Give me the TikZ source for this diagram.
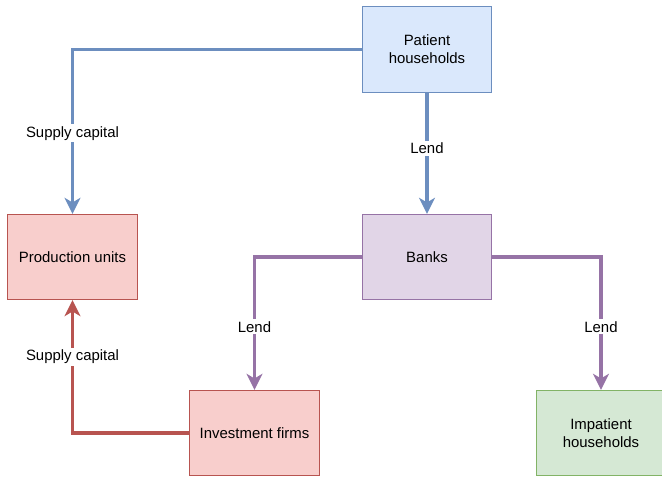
\documentclass[tikz,border=0pt]{standalone}
\usepackage{fontspec}
\setmainfont{Liberation Sans}
\usepackage{xcolor}
\usetikzlibrary{arrows.meta, positioning}

\definecolor{blueline}{HTML}{6C8EBF}
\definecolor{bluefill}{HTML}{DAE8FC}
\definecolor{purpleline}{HTML}{9673A6}
\definecolor{purplefill}{HTML}{E1D5E7}
\definecolor{redline}{HTML}{B85450}
\definecolor{redfill}{HTML}{F8CECC}
\definecolor{greenline}{HTML}{82B366}
\definecolor{greenfill}{HTML}{D5E8D4}

\begin{document}
\begin{tikzpicture}[
        x=0.75pt, y=-0.75pt,
        box/.style={rectangle, line width=0.8pt, minimum width=97pt, minimum height=64pt,
                    text centered, align=center, font=\fontsize{11.2}{13.4}\selectfont, inner sep=0pt},
        householdbox/.style={box, draw=blueline, fill=bluefill},
        bankbox/.style={box, draw=purpleline, fill=purplefill},
        firmbox/.style={box, draw=redline, fill=redfill},
        debtorbox/.style={box, draw=greenline, fill=greenfill},
        arrow/.style={-{Stealth[length=12pt, width=12pt, inset=3.5pt]}, line width=2.8pt},
        flowlabel/.style={fill=white, inner sep=1.5pt, text=black, font=\fontsize{11.2}{13.4}\selectfont}
    ]
        \useasboundingbox (0,0) rectangle (662,476);

        \node[householdbox] (patient) at (427,49.5) {Patient\\households};
        \node[bankbox] (banks) at (427,257) {Banks};
        \node[firmbox] (production) at (72.5,257) {Production units};
        \node[firmbox] (investment) at (254.5,433) {Investment firms};
        \node[debtorbox] (impatient) at (601,433) {Impatient\\households};

        \draw[arrow, blueline] (patient.west) -| node[flowlabel, pos=0.755]{Supply capital} (production.north);
        \draw[arrow, blueline] (patient) -- node[flowlabel, pos=0.46]{Lend} (banks);
        \draw[arrow, purpleline] (banks.west) -| node[flowlabel, pos=0.763]{Lend} (investment.north);
        \draw[arrow, purpleline] (banks.east) -| node[flowlabel, pos=0.763]{Lend} (impatient.north);
        \draw[arrow, redline] (investment.west) -| node[flowlabel, pos=0.786]{Supply capital} (production.south);
    \end{tikzpicture}
\end{document}
